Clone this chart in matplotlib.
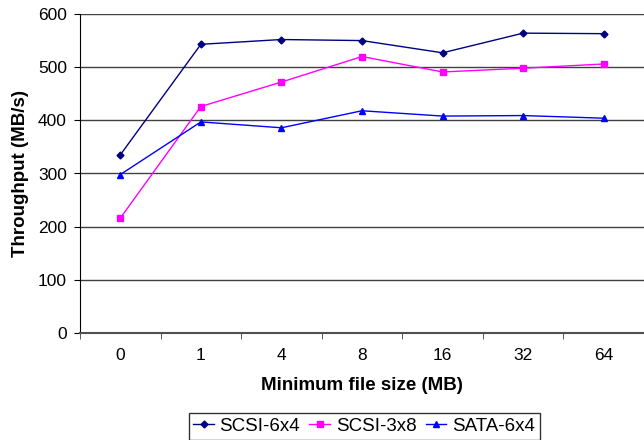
import numpy as np
import matplotlib.pyplot as plt

plt.rcParams['font.family'] = ['Liberation Sans', 'DejaVu Sans']

sizes = ['0', '1', '4', '8', '16', '32', '64']
scsi_6x4 = [335, 543, 552, 550, 527, 564, 563]
scsi_3x8 = [216, 426, 472, 520, 491, 498, 506]
sata_6x4 = [298, 397, 386, 418, 408, 409, 404]

fig = plt.figure(figsize=(6.44, 4.4), dpi=100)
ax = fig.add_axes([80/644, 1 - 333/440, 1 - 80/644, (333 - 14)/440])

x = np.arange(len(sizes))
ax.plot(x, scsi_6x4, color='#000080', marker='D', markersize=3.5, lw=1, label='SCSI-6x4')
ax.plot(x, scsi_3x8, color='#FF00FF', marker='s', markersize=4.5, lw=1, label='SCSI-3x8')
ax.plot(x, sata_6x4, color='#0000FF', marker='^', markersize=5, lw=1, label='SATA-6x4')

ax.set_xlim(-0.5, 6.5)
ax.set_ylim(0, 600)
ax.set_yticks(range(0, 601, 100))
ax.yaxis.grid(True, color='#404040', lw=1)
ax.set_axisbelow(True)

# category labels centred, tick marks on the boundaries
ax.set_xticks(x)
ax.set_xticklabels(sizes)
ax.set_xticks(np.arange(-0.5, 6.6, 1), minor=True)
ax.tick_params(axis='x', which='major', length=0, pad=11, labelsize=12.5)
ax.tick_params(axis='x', which='minor', length=4, direction='out', color='#404040')
ax.tick_params(axis='y', length=4.5, direction='out', labelsize=12.5, pad=5)

ax.spines['top'].set_visible(False)
ax.spines['right'].set_visible(False)
ax.spines['bottom'].set_color('#505050')
ax.spines['bottom'].set_linewidth(1.5)
ax.spines['left'].set_color('black')

ax.set_xlabel('Minimum file size (MB)', fontsize=13.5, fontweight='bold', labelpad=10)
ax.set_ylabel('Throughput (MB/s)', fontsize=13.5, fontweight='bold', labelpad=6)

leg = fig.legend(loc='upper center', bbox_to_anchor=(364/644, 1 - 413/440), ncol=3,
                 frameon=True, fancybox=False, edgecolor='black', fontsize=13.5,
                 handlelength=1.1, handletextpad=0.3, columnspacing=0.5,
                 borderpad=0.25, borderaxespad=0)
leg.get_frame().set_linewidth(1)

fig.savefig('out.png', dpi=100)
